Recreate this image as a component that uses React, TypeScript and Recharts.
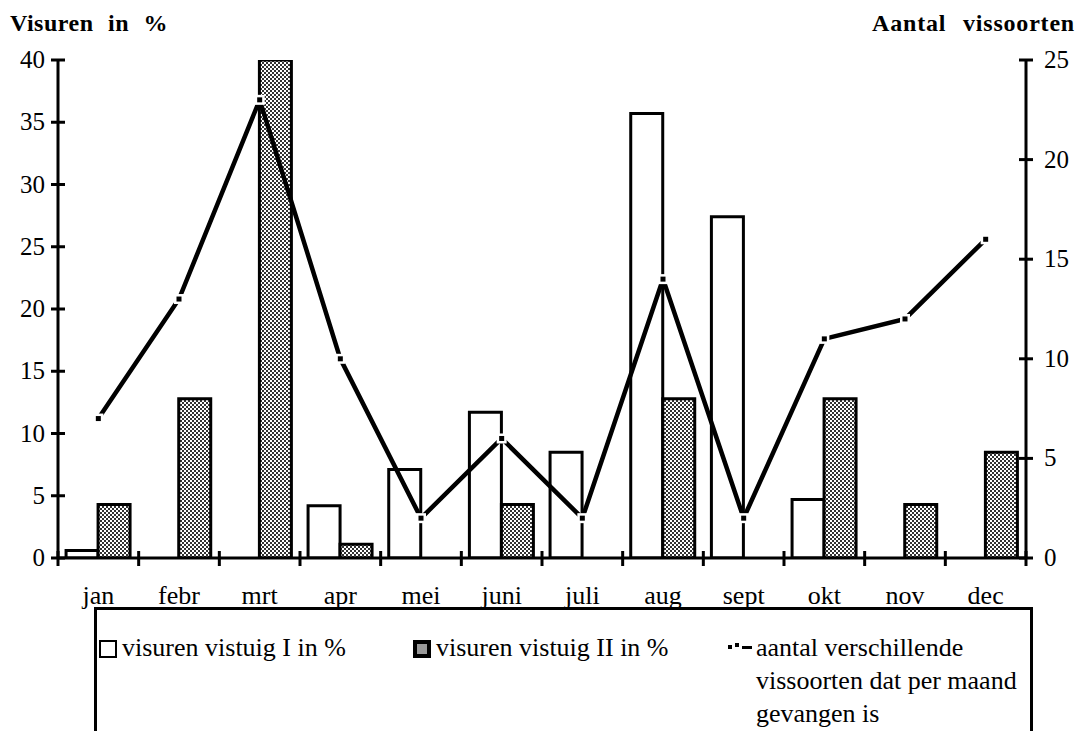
import { ComposedChart, Bar, Line, XAxis, YAxis } from "recharts";

const months = ["jan", "febr", "mrt", "apr", "mei", "juni", "juli", "aug", "sept", "okt", "nov", "dec"];
const vistuigI = [0.6, 0, 0, 4.2, 7.1, 11.7, 8.5, 35.7, 27.4, 4.7, 0, 0];
const vistuigII = [4.3, 12.8, 40, 1.1, 0, 4.3, 0, 12.8, 0, 12.8, 4.3, 8.5];
const soorten = [7, 13, 23, 10, 2, 6, 2, 14, 2, 11, 12, 16];
const leftTicks = [0, 5, 10, 15, 20, 25, 30, 35, 40];
const rightTicks = [0, 5, 10, 15, 20, 25];

const data = months.map((m, i) => ({ maand: m, I: vistuigI[i], II: vistuigII[i], soorten: soorten[i] }));

const font = "'Liberation Serif', 'Times New Roman', serif";
const W = 1081;
const H = 731;
const LEFT = 58;
const RIGHT = 55;
const half = (W - LEFT - RIGHT) / months.length / 2;

const LeftTick = (props: any) => {
  const { x, y, payload } = props;
  return (
    <g>
      <line x1={x - 7} x2={x + 7} y1={y} y2={y} stroke="#000" strokeWidth={3} />
      <text x={x - 13} y={y} dy={8} textAnchor="end" fontSize={25} fontFamily={font} fill="#000">
        {payload.value}
      </text>
    </g>
  );
};

const RightTick = (props: any) => {
  const { x, y, payload } = props;
  return (
    <g>
      <line x1={x - 7} x2={x + 7} y1={y} y2={y} stroke="#000" strokeWidth={3} />
      <text x={x + 18} y={y} dy={8} textAnchor="start" fontSize={25} fontFamily={font} fill="#000">
        {payload.value}
      </text>
    </g>
  );
};

const MonthTick = (props: any) => {
  const { x, y, payload, index } = props;
  return (
    <g>
      <line x1={x - half} x2={x - half} y1={y - 7} y2={y + 8} stroke="#000" strokeWidth={3} />
      {index === months.length - 1 && (
        <line x1={x + half} x2={x + half} y1={y - 7} y2={y + 8} stroke="#000" strokeWidth={3} />
      )}
      <text x={x} y={y + 46} textAnchor="middle" fontSize={26} fontFamily={font} fill="#000">
        {payload.value}
      </text>
    </g>
  );
};

const Dot = (props: any) => {
  const { cx, cy, index } = props;
  return (
    <g key={"d" + index}>
      <rect x={cx - 5} y={cy - 5} width={10} height={10} fill="#fff" />
      <rect x={cx - 2.5} y={cy - 2.5} width={5} height={5} fill="#000" />
    </g>
  );
};

const legendText = { position: "absolute" as const, fontSize: 26, lineHeight: "33px", whiteSpace: "nowrap" as const };

const App = () => {
  return (
    <div style={{ position: "absolute", left: 0, top: 0, width: W, height: H, overflow: "hidden", background: "#fff", fontFamily: font }}>
      <div style={{ position: "absolute", left: 10, top: 10, fontSize: 24, fontWeight: "bold", wordSpacing: 8, letterSpacing: 0.5 }}>
        Visuren in %
      </div>
      <div style={{ position: "absolute", right: 6, top: 10, fontSize: 24, fontWeight: "bold", wordSpacing: 10, letterSpacing: 0.8 }}>
        Aantal vissoorten
      </div>
      <ComposedChart
        width={W}
        height={H}
        data={data}
        margin={{ top: 60, right: 0, bottom: 133, left: 0 }}
        barCategoryGap="10%"
        barGap={0}
      >
        <defs>
          <pattern id="dots" patternUnits="userSpaceOnUse" width={4} height={4}>
            <rect width={4} height={4} fill="#fff" />
            <rect x={0} y={0} width={2} height={2} fill="#333" />
            <rect x={2} y={2} width={2} height={2} fill="#333" />
          </pattern>
        </defs>
        <XAxis
          dataKey="maand"
          height={40}
          axisLine={{ stroke: "#000", strokeWidth: 3 }}
          tickLine={false}
          tickSize={0}
          tickMargin={0}
          tick={MonthTick}
          interval={0}
        />
        <YAxis
          yAxisId="left"
          width={LEFT}
          domain={[0, 40]}
          ticks={leftTicks}
          allowDataOverflow
          axisLine={{ stroke: "#000", strokeWidth: 3 }}
          tickLine={false}
          tickSize={0}
          tickMargin={0}
          tick={LeftTick}
        />
        <YAxis
          yAxisId="right"
          orientation="right"
          width={RIGHT}
          domain={[0, 25]}
          ticks={rightTicks}
          axisLine={{ stroke: "#000", strokeWidth: 3 }}
          tickLine={false}
          tickSize={0}
          tickMargin={0}
          tick={RightTick}
        />
        <Bar yAxisId="left" dataKey="I" fill="#fff" stroke="#000" strokeWidth={3} isAnimationActive={false} />
        <Bar yAxisId="left" dataKey="II" fill="url(#dots)" stroke="#000" strokeWidth={3} isAnimationActive={false} />
        <Line
          yAxisId="right"
          dataKey="soorten"
          type="linear"
          stroke="#000"
          strokeWidth={4.5}
          dot={Dot}
          activeDot={false}
          isAnimationActive={false}
        />
      </ComposedChart>
      <div
        style={{
          position: "absolute",
          left: 94,
          top: 607,
          width: 933,
          height: 140,
          border: "3px solid #000",
        }}
      />
      <span style={{ position: "absolute", left: 99, top: 640, width: 14, height: 14, border: "2px solid #000" }} />
      <div style={{ ...legendText, left: 122, top: 631 }}>visuren vistuig I in %</div>
      <svg width={18} height={18} style={{ position: "absolute", left: 413, top: 640 }}>
        <rect x={0} y={0} width={18} height={18} fill="#000" />
        <rect x={4} y={4} width={10} height={10} fill="#999" />
      </svg>
      <div style={{ ...legendText, left: 436, top: 631 }}>visuren vistuig II in %</div>
      <svg width={26} height={10} style={{ position: "absolute", left: 728, top: 642 }}>
        <rect x={0} y={3} width={4} height={4} fill="#000" />
        <rect x={7} y={1} width={4} height={4} fill="#000" />
        <rect x={14} y={4} width={10} height={3} fill="#000" />
      </svg>
      <div style={{ ...legendText, left: 756, top: 631 }}>
        aantal verschillende
        <br />
        vissoorten dat per maand
        <br />
        gevangen is
      </div>
    </div>
  );
};

export default App;
